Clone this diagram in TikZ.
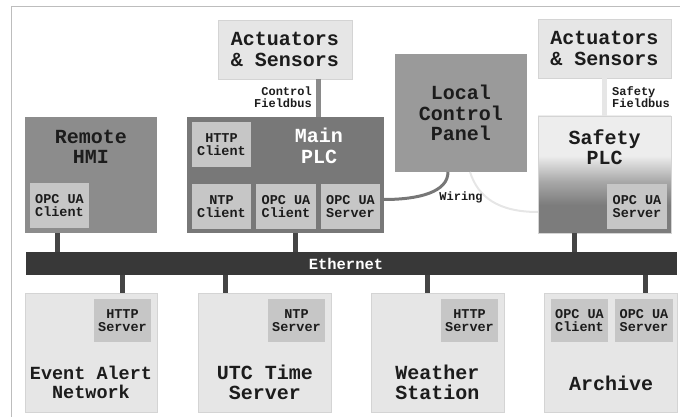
\documentclass[tikz,border=0pt]{standalone}
\usepackage{fontspec}
\newfontfamily\mono{Liberation Mono}
\usetikzlibrary{calc}

\definecolor{ink}{HTML}{1C1C1C}
\definecolor{paleBox}{HTML}{E6E6E6}
\definecolor{paleEdge}{HTML}{D4D4D4}
\definecolor{subBox}{HTML}{C6C6C6}
\definecolor{hmiGray}{HTML}{8C8C8C}
\definecolor{plcGray}{HTML}{787878}
\definecolor{lcpGray}{HTML}{9A9A9A}
\definecolor{busGray}{HTML}{383838}
\definecolor{linkGray}{HTML}{454545}
\definecolor{fieldGray}{HTML}{8A8A8A}
\definecolor{faintGray}{HTML}{E6E6E6}
\definecolor{wireGray}{HTML}{777777}
\definecolor{frameGray}{HTML}{BDBDBD}
\definecolor{sLight}{HTML}{EDEDED}
\definecolor{sMid}{HTML}{A8A8A8}
\definecolor{sDark}{HTML}{7C7C7C}

% light at the top, darkening towards the bottom
\pgfdeclareverticalshading{safetyfade}{100bp}{color(0bp)=(sDark); color(37bp)=(sDark); color(47bp)=(sMid); color(58bp)=(sLight); color(100bp)=(sLight)}

\begin{document}
\begin{tikzpicture}[x=1pt,y=-1pt,
  box/.style={rectangle, inner sep=0pt, outer sep=0pt},
  pale/.style={box, fill=paleBox, draw=paleEdge, line width=0.6pt},
  sub/.style={box, fill=subBox, minimum width=59pt, minimum height=45pt,
    align=center, text=ink, font=\mono\bfseries\fontsize{13.5}{13.5}\selectfont},
  big/.style={align=center, text=ink, inner sep=0pt, font=\mono\bfseries\fontsize{20}{20.5}\selectfont},
  lab/.style={inner sep=0pt, text=ink, font=\mono\bfseries\fontsize{12}{12}\selectfont},
  link/.style={draw=linkGray, line width=5pt},
]
\useasboundingbox (0,0) rectangle (680,417);

% frame edges
\draw[frameGray, line width=1pt] (11,417) -- (11,7) -- (680,7);

% field devices
\node[pale, big, minimum width=134pt, minimum height=59pt] (actL) at (285,49.5) {Actuators\\\& Sensors};
\node[pale, big, minimum width=133pt, minimum height=59pt] (actR) at (604.5,48.5) {Actuators\\\& Sensors};

% remote HMI
\node[box, fill=hmiGray, minimum width=132pt, minimum height=116pt] (hmi) at (91,175) {};
\node[big] (hmi-t) at (91,147) {Remote\\HMI};
\node[sub] (hmi-c) at (59.5,205.5) {OPC UA\\Client};

% main PLC
\node[box, fill=plcGray, minimum width=197pt, minimum height=116pt] (plc) at (285.5,175) {};
\node[big, text=white] (plc-t) at (319,146) {Main\\PLC};
\node[sub] (plc-h) at (221.5,144.5) {HTTP\\Client};
\node[sub] (plc-n) at (221.5,206.5) {NTP\\Client};
\node[sub, minimum width=60pt] (plc-c) at (286,206.5) {OPC UA\\Client};
\node[sub] (plc-s) at (350.5,206.5) {OPC UA\\Server};

% local control panel
\node[box, big, fill=lcpGray, minimum width=132pt, minimum height=118pt] (lcp) at (461,113) {Local\\Control\\Panel};

% safety PLC
\node[box, shading=safetyfade, draw=paleEdge, line width=0.6pt, minimum width=133pt, minimum height=117pt] (saf) at (604.5,174.5) {};
\node[big] (saf-t) at (604.5,147) {Safety\\PLC};
\node[sub, minimum width=60pt] (saf-s) at (637,206.5) {OPC UA\\Server};

% fieldbuses
\draw[draw=fieldGray, line width=5pt] ([xshift=33pt]actL.south) -- ([xshift=33pt]actL.south |- plc.north);
\node[lab, align=right, anchor=east] (cf) at (312,97) {Control\\Fieldbus};
\draw[draw=faintGray, line width=5pt] (actR.south) -- (saf.north);
\node[lab, align=left, anchor=west] (sf) at (612,97) {Safety\\Fieldbus};

% wiring to the local panel
\draw[wireGray, line width=3pt] ([xshift=4pt,yshift=7pt]plc-s.east) .. controls +(35,0) and +(0,20) .. ([xshift=-13pt]lcp.south);
\draw[faintGray, line width=2pt] ([xshift=9pt]lcp.south) .. controls +(8,25) and +(-40,0) .. ([yshift=-37.5pt]saf.west);
\node[lab] (wir) at (461,197) {Wiring};

% ethernet backbone
\node[box, fill=busGray, minimum width=651pt, minimum height=23pt] (eth) at (351.5,263.5) {};
\node[lab, text=white, font=\mono\bfseries\fontsize{15.5}{15.5}\selectfont] (eth-t) at (346,264) {Ethernet};

% servers on the network
\node[pale, minimum width=132pt, minimum height=119pt] (ev) at (91,352.5) {};
\node[sub, minimum width=57pt, minimum height=43pt] (ev-s) at (122.5,320.5) {HTTP\\Server};
\node[big, font=\mono\bfseries\fontsize{18.5}{19}\selectfont] (ev-t) at (91,382.5) {Event Alert\\Network};

\node[pale, minimum width=133pt, minimum height=119pt] (utc) at (264.5,352.5) {};
\node[sub, minimum width=57pt, minimum height=43pt] (utc-s) at (296.5,320.5) {NTP\\Server};
\node[big] (utc-t) at (265,382.5) {UTC Time\\Server};

\node[pale, minimum width=133pt, minimum height=119pt] (ws) at (437.5,352.5) {};
\node[sub, minimum width=57pt, minimum height=43pt] (ws-s) at (469.5,320.5) {HTTP\\Server};
\node[big] (ws-t) at (437.5,382.5) {Weather\\Station};

\node[pale, minimum width=133pt, minimum height=119pt] (arc) at (610.5,352.5) {};
\node[sub, minimum width=57pt, minimum height=43pt] (arc-c) at (579.5,320.5) {OPC UA\\Client};
\node[sub, minimum width=58pt, minimum height=43pt] (arc-s) at (644,320.5) {OPC UA\\Server};
\node[big] (arc-t) at (611,383) {Archive};

% drops onto the backbone
\draw[link] ([xshift=-34pt]hmi.south) -- ([xshift=-34pt]hmi.south |- eth.north);
\draw[link] ([xshift=9.5pt]plc.south) -- ([xshift=9.5pt]plc.south |- eth.north);
\draw[link] ([xshift=-30.5pt]saf.south) -- ([xshift=-30.5pt]saf.south |- eth.north);
\draw[link] ([xshift=31pt]ev.north |- eth.south) -- ([xshift=31pt]ev.north);
\draw[link] ([xshift=-39.5pt]utc.north |- eth.south) -- ([xshift=-39.5pt]utc.north);
\draw[link] ([xshift=-10.5pt]ws.north |- eth.south) -- ([xshift=-10.5pt]ws.north);
\draw[link] ([xshift=34.5pt]arc.north |- eth.south) -- ([xshift=34.5pt]arc.north);
\end{tikzpicture}
\end{document}
